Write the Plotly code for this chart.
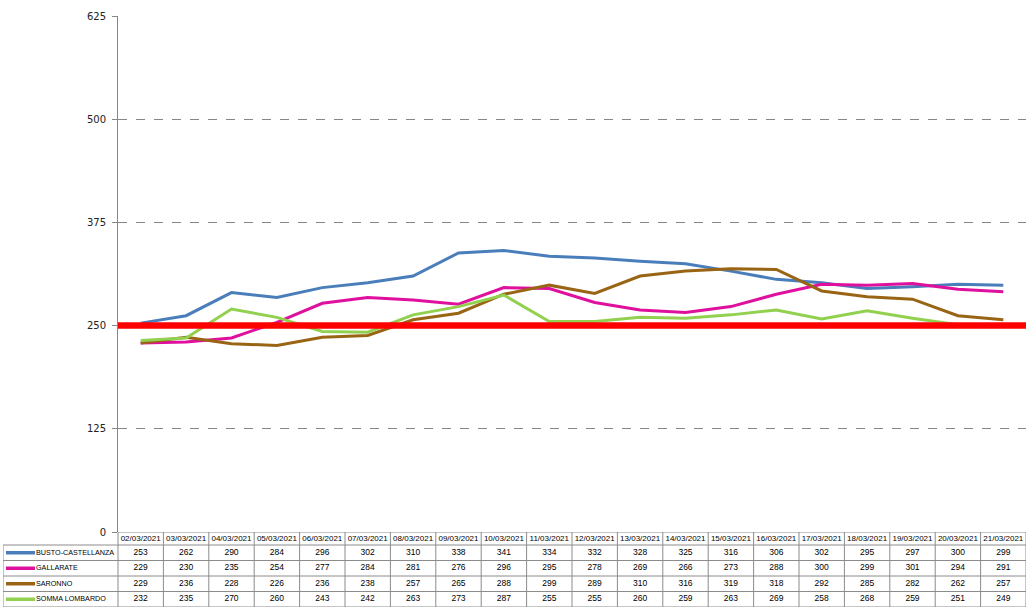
import plotly.graph_objects as go

# dati: incidenza per comune, 02/03/2021 - 21/03/2021
dates = ["02/03/2021", "03/03/2021", "04/03/2021", "05/03/2021", "06/03/2021",
         "07/03/2021", "08/03/2021", "09/03/2021", "10/03/2021", "11/03/2021",
         "12/03/2021", "13/03/2021", "14/03/2021", "15/03/2021", "16/03/2021",
         "17/03/2021", "18/03/2021", "19/03/2021", "20/03/2021", "21/03/2021"]

busto = [253, 262, 290, 284, 296, 302, 310, 338, 341, 334,
         332, 328, 325, 316, 306, 302, 295, 297, 300, 299]
gallarate = [229, 230, 235, 254, 277, 284, 281, 276, 296, 295,
             278, 269, 266, 273, 288, 300, 299, 301, 294, 291]
saronno = [229, 236, 228, 226, 236, 238, 257, 265, 288, 299,
           289, 310, 316, 319, 318, 292, 285, 282, 262, 257]
somma = [232, 235, 270, 260, 243, 242, 263, 273, 287, 255,
         255, 260, 259, 263, 269, 258, 268, 259, 251, 249]

names = ["BUSTO-CASTELLANZA", "GALLARATE", "SARONNO", "SOMMA LOMBARDO"]
series = [busto, gallarate, saronno, somma]
colors = ["#4A7EBB", "#E0109E", "#996515", "#92D050"]

threshold = 250
y_ticks = [0, 125, 250, 375, 500, 625]

W, H = 1032, 615
ml, mr, mt, mb = 3, 6, 16, 8
pw = W - ml - mr
ph = H - mt - mb
plot_left = 118      # px, asse y
head_h = 13          # altezza riga intestazione tabella
row_h = 15.5         # altezza righe tabella
tab_h = head_h + row_h * len(names)

x0 = (plot_left - ml) / pw
y0 = tab_h / ph

n = len(dates)
col_w = (pw - (plot_left - ml)) / n
xl = -0.5 - (plot_left - ml) / col_w   # bordo sinistro tabella in unita' x2


def px2x(p):
    return xl + (p - ml) / col_w


fig = go.Figure()

for name, vals, col in zip(names, series, colors):
    fig.add_trace(go.Scatter(x=dates, y=vals, name=name, mode="lines",
                             line=dict(color=col, width=3)))

# tabella dati sotto il grafico (asse x2/y2, stesse colonne delle categorie)
hfont = dict(family="Liberation Sans, Arial", size=8, color="black")
vfont = dict(family="Liberation Sans, Arial", size=8.5, color="black")
idx = list(range(n))
fig.add_trace(go.Scatter(x=idx, y=[tab_h - head_h / 2] * n, text=dates,
                         mode="text", textfont=hfont, xaxis="x2", yaxis="y2",
                         hoverinfo="skip"))
for r, (name, vals) in enumerate(zip(names, series)):
    yc = row_h * (len(names) - r) - row_h / 2
    fig.add_trace(go.Scatter(x=idx, y=[yc] * n, text=vals, mode="text",
                             textfont=vfont, xaxis="x2", yaxis="y2",
                             hoverinfo="skip"))
    fig.add_trace(go.Scatter(x=[px2x(36)], y=[yc], text=[name], mode="text",
                             textposition="middle right",
                             textfont=dict(family="Liberation Sans, Arial", size=7.2, color="black"),
                             xaxis="x2", yaxis="y2", hoverinfo="skip"))

shapes = []
bc = "#8C8C8C"
body_h = row_h * len(names)
# bordi verticali colonne date
for k in range(n + 1):
    shapes.append(dict(type="line", xref="x2", yref="y2", x0=k - 0.5, x1=k - 0.5,
                       y0=0, y1=tab_h, line=dict(color=bc, width=1)))
shapes.append(dict(type="line", xref="x2", yref="y2", x0=xl, x1=xl,
                   y0=0, y1=body_h, line=dict(color=bc, width=1)))
# bordi orizzontali
for r in range(len(names) + 1):
    shapes.append(dict(type="line", xref="x2", yref="y2", x0=xl, x1=n - 0.5,
                       y0=row_h * r, y1=row_h * r, line=dict(color=bc, width=1)))
shapes.append(dict(type="line", xref="x2", yref="y2", x0=-0.5, x1=n - 0.5,
                   y0=tab_h, y1=tab_h, line=dict(color=bc, width=1)))

# campioni colore della legenda
for r, col in enumerate(colors):
    yc = row_h * (len(names) - r) - row_h / 2
    shapes.append(dict(type="line", xref="x2", yref="y2", x0=px2x(6), x1=px2x(35),
                       y0=yc, y1=yc, line=dict(color=col, width=3.5)))

# soglia 250
shapes.append(dict(type="line", xref="x domain", yref="y", x0=0, x1=1,
                   y0=threshold, y1=threshold,
                   line=dict(color="#FF0000", width=6.5), layer="above"))

fig.update_layout(
    width=W, height=H,
    margin=dict(l=ml, r=mr, t=mt, b=mb, pad=0),
    paper_bgcolor="white", plot_bgcolor="white",
    showlegend=False,
    shapes=shapes,
    xaxis=dict(domain=[x0, 1], type="category", range=[-0.5, n - 0.5],
               showticklabels=False, showgrid=False, zeroline=False,
               showline=False, ticks="", fixedrange=True),
    yaxis=dict(domain=[y0, 1], range=[0, 625], tickvals=y_ticks,
               showgrid=True, gridcolor="#868686", griddash="dash", gridwidth=1,
               zeroline=False, showline=True, linecolor="#868686", linewidth=1,
               ticks="outside", ticklen=5, tickcolor="#868686",
               ticklabelstandoff=4, fixedrange=True,
               tickfont=dict(family="DejaVu Sans", size=10, color="#222222")),
    xaxis2=dict(domain=[0, 1], range=[xl, n - 0.5], visible=False,
                anchor="y2", fixedrange=True),
    yaxis2=dict(domain=[0, y0], range=[0, tab_h], visible=False,
                anchor="x2", fixedrange=True),
)

fig.write_html("out.html", config={"displayModeBar": False},
               post_script="document.body.style.margin='0';")
